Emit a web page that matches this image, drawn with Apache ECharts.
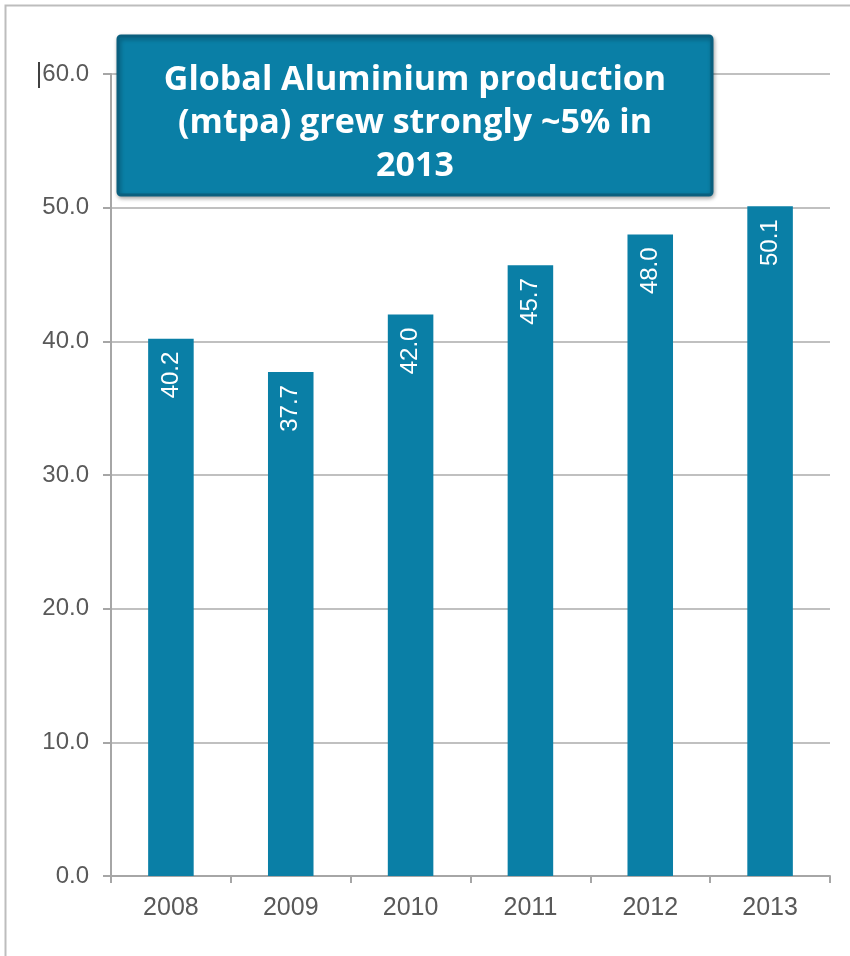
<!DOCTYPE html>
<html><head><meta charset="utf-8">
<script src="https://cdn.jsdelivr.net/npm/echarts@6/dist/echarts.min.js"></script>
<style>html,body{margin:0;padding:0;background:#fff}#c{width:850px;height:956px}</style>
</head><body><div id="c"></div>
<script>
const years = ['2008','2009','2010','2011','2012','2013'];
const production = [40.2, 37.7, 42.0, 45.7, 48.0, 50.1];
const yTicks = { min: 0, max: 60, interval: 10 };
const titleLines = ['Global Aluminium production', '(mtpa) grew strongly ~5% in', '2013'];

const chart = echarts.init(document.getElementById('c'));
chart.setOption({
  animation: false,
  backgroundColor: '#fff',
  grid: { left: 111, right: 20, top: 74, bottom: 80 },
  xAxis: {
    type: 'category', data: years,
    axisLine: { lineStyle: { color: '#a6a6a6', width: 2 } },
    axisTick: { show: true, length: 7, lineStyle: { color: '#a6a6a6', width: 2 } },
    axisLabel: { color: '#595959', fontSize: 25, fontFamily: 'Liberation Sans', margin: 20 }
  },
  yAxis: {
    type: 'value', min: yTicks.min, max: yTicks.max, interval: yTicks.interval,
    axisLine: { show: true, lineStyle: { color: '#a6a6a6', width: 2 } },
    axisTick: { show: true, length: 8, lineStyle: { color: '#a6a6a6', width: 2 } },
    axisLabel: { color: '#595959', fontSize: 24, fontFamily: 'Liberation Sans', margin: 22,
      formatter: v => v.toFixed(1) },
    splitLine: { lineStyle: { color: '#c0c0c0', width: 2 } }
  },
  series: [{
    type: 'bar', data: production, barWidth: '38%',
    itemStyle: { color: '#0A7FA6' },
    label: {
      show: true, position: 'insideTop', rotate: 90, align: 'right', verticalAlign: 'middle',
      distance: 13, color: '#fff', fontSize: 24, fontFamily: 'Liberation Sans',
      formatter: p => p.value.toFixed(1)
    }
  }],
  graphic: [
    { type: 'rect', z: 100, left: 3, top: 3, shape: { width: 860, height: 970 }, silent: true,
      style: { fill: 'none', stroke: '#bdbdbd', lineWidth: 2 } },
    { type: 'line', z: 100, shape: { x1: 39, y1: 62, x2: 39, y2: 88 }, style: { stroke: '#000', lineWidth: 1.5 } },
    { type: 'rect', z: 100, shape: { x: 118, y: 36, width: 594, height: 159, r: 3 },
      style: { fill: '#0A7FA6', stroke: '#0A5F7E', lineWidth: 3,
        shadowBlur: 4, shadowColor: 'rgba(0,0,0,0.3)', shadowOffsetX: 1, shadowOffsetY: 2 } },
    { type: 'text', z: 101, silent: true,
      style: { text: titleLines.join('\n'), x: 415, y: 59, textAlign: 'center', textVerticalAlign: 'top',
        fill: '#fff', font: 'bold 34px "Open Sans"', lineHeight: 43 } }
  ]
});
</script></body></html>
